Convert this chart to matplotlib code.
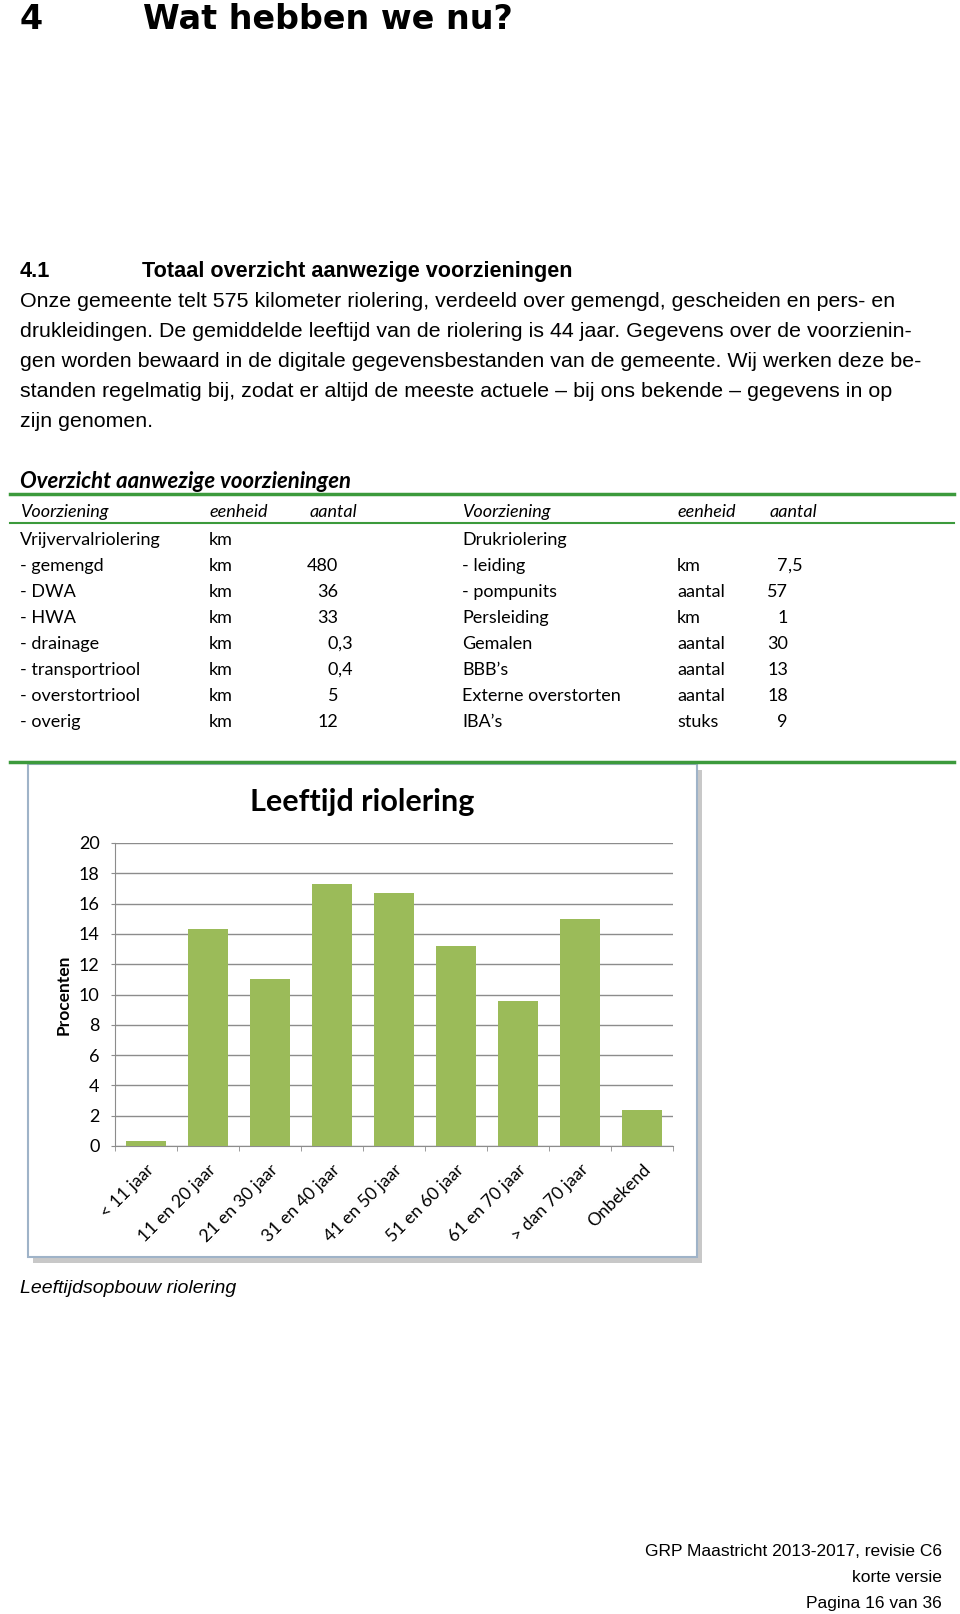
import matplotlib.pyplot as plt
from matplotlib.patches import Rectangle
from matplotlib.lines import Line2D

W, H = 960, 1614

# --- data ---
intro_lines = [
    "Onze gemeente telt 575 kilometer riolering, verdeeld over gemengd, gescheiden en pers- en",
    "drukleidingen. De gemiddelde leeftijd van de riolering is 44 jaar. Gegevens over de voorzienin-",
    "gen worden bewaard in de digitale gegevensbestanden van de gemeente. Wij werken deze be-",
    "standen regelmatig bij, zodat er altijd de meeste actuele \u2013 bij ons bekende \u2013 gegevens in op",
    "zijn genomen.",
]

table_header = ["Voorziening", "eenheid", "aantal"]
left_names = ["Vrijvervalriolering", "- gemengd", "- DWA", "- HWA", "- drainage",
              "- transportriool", "- overstortriool", "- overig"]
left_units = ["km", "km", "km", "km", "km", "km", "km", "km"]
left_counts = ["", "480", "36", "33", "0,3", "0,4", "5", "12"]
right_names = ["Drukriolering", "- leiding", "- pompunits", "Persleiding", "Gemalen",
               "BBB\u2019s", "Externe overstorten", "IBA\u2019s"]
right_units = ["", "km", "aantal", "km", "aantal", "aantal", "aantal", "stuks"]
right_counts = ["", "7,5", "57", "1", "30", "13", "18", "9"]

age_labels = ["< 11 jaar", "11 en 20 jaar", "21 en 30 jaar", "31 en 40 jaar", "41 en 50 jaar",
              "51 en 60 jaar", "61 en 70 jaar", "> dan 70 jaar", "Onbekend"]
age_pct = [0.3, 14.3, 11.0, 17.3, 16.7, 13.2, 9.6, 15.0, 2.4]

footer = ["GRP Maastricht 2013-2017, revisie C6", "korte versie", "Pagina 16 van 36"]

ARIAL = ["Liberation Sans", "DejaVu Sans"]
CAL = ["Lato", "DejaVu Sans"]
GREEN = "#3c9a3c"
BAR = "#9bbb59"
GRID = "#8c8c8c"


def fx(x):
    return x / W


def fy(y):
    return 1 - y / H


fig = plt.figure(figsize=(W / 100, H / 100), dpi=100)

# koppen
fig.text(fx(20), fy(29), "4", family="DejaVu Sans", weight="bold", fontsize=24, va="baseline")
fig.text(fx(143), fy(29), "Wat hebben we nu?", family="DejaVu Sans", weight="bold", fontsize=24,
         va="baseline")
fig.text(fx(20), fy(277), "4.1", family=ARIAL, weight="bold", fontsize=15.6, va="baseline")
fig.text(fx(142), fy(277), "Totaal overzicht aanwezige voorzieningen", family=ARIAL, weight="bold",
         fontsize=15.6, va="baseline")

for i, line in enumerate(intro_lines):
    fig.text(fx(20), fy(307 + 30 * i), line, family=ARIAL, fontsize=15.4, va="baseline")

# tabel
fig.text(fx(20), fy(488), "Overzicht aanwezige voorzieningen", family=CAL, weight="bold",
         style="italic", fontsize=15.9, va="baseline")
fig.add_artist(Line2D([fx(10), fx(954)], [fy(494), fy(494)], color=GREEN, lw=2.5))
fig.add_artist(Line2D([fx(10), fx(954)], [fy(523), fy(523)], color=GREEN, lw=1.5))
fig.add_artist(Line2D([fx(10), fx(954)], [fy(762), fy(762)], color=GREEN, lw=2.5))

col_x = [20, 209, 310, 462, 677, 770]
for j, h in enumerate(table_header * 2):
    fig.text(fx(col_x[j]), fy(517), h, family=CAL, style="italic", fontsize=13, va="baseline")


def put_count(xc, y, s):
    # uitlijnen op de komma
    if not s:
        return
    ip, _, dp = s.partition(",")
    fig.text(fx(xc), fy(y), ip, family=CAL, fontsize=13, va="baseline", ha="right")
    if dp:
        fig.text(fx(xc), fy(y), "," + dp, family=CAL, fontsize=13, va="baseline", ha="left")


for i in range(len(left_names)):
    y = 545 + 26 * i
    fig.text(fx(col_x[0]), fy(y), left_names[i], family=CAL, fontsize=13, va="baseline")
    fig.text(fx(col_x[1]), fy(y), left_units[i], family=CAL, fontsize=13, va="baseline")
    put_count(338, y, left_counts[i])
    fig.text(fx(col_x[3]), fy(y), right_names[i], family=CAL, fontsize=13, va="baseline")
    fig.text(fx(col_x[4]), fy(y), right_units[i], family=CAL, fontsize=13, va="baseline")
    put_count(788, y, right_counts[i])

# grafiekkader met schaduw
fig.add_artist(Rectangle((fx(33), fy(1263)), (697 - 28) / W, (1257 - 764) / H,
                         transform=fig.transFigure, facecolor="#c8c8c8", edgecolor="none", zorder=0))
fig.add_artist(Rectangle((fx(28), fy(1257)), (697 - 28) / W, (1257 - 764) / H,
                         transform=fig.transFigure, facecolor="white", edgecolor="#9fb3c8", lw=1.5, zorder=0))

ax = fig.add_axes([fx(115), fy(1146), (673 - 115) / W, (1146 - 843) / H])
xs = list(range(len(age_pct)))
ax.bar(xs, age_pct, width=0.66, color=BAR, zorder=3)
ax.set_xlim(-0.5, len(age_pct) - 0.5)
ax.set_ylim(0, 20)
ax.set_yticks(range(0, 21, 2))
ax.yaxis.grid(True, color=GRID, lw=1)
ax.set_axisbelow(True)
for s in ["top", "right"]:
    ax.spines[s].set_visible(False)
ax.spines["left"].set_color(GRID)
ax.spines["bottom"].set_color(GRID)
ax.set_xticks(xs)
ax.set_xticklabels(age_labels, rotation=45, ha="right", rotation_mode="anchor",
                   family=CAL, fontsize=12.7)
ax.tick_params(axis="x", length=0, pad=11)
ax.set_xticks([x + 0.5 for x in [-1] + xs], minor=True)
ax.tick_params(axis="x", which="minor", length=3.6, color=GRID)
ax.tick_params(axis="y", length=3, color=GRID, pad=8)
for lab in ax.get_yticklabels():
    lab.set_family(CAL)
    lab.set_fontsize(13)
ax.set_ylabel("Procenten", family=CAL, weight="bold", fontsize=12.5)
ax.yaxis.set_label_coords(-0.077, 0.5)
ax.set_facecolor("none")

fig.text(fx(362), fy(802), "Leeftijd riolering", family=CAL, weight="bold", fontsize=22,
         ha="center", va="center")

fig.text(fx(20), fy(1293), "Leeftijdsopbouw riolering", family=ARIAL, style="italic",
         fontsize=14, va="baseline")

for i, line in enumerate(footer):
    fig.text(fx(942), fy(1556 + 26 * i), line, family=ARIAL, fontsize=12.5, va="baseline", ha="right")

fig.savefig("out.png", dpi=100, facecolor="white")
